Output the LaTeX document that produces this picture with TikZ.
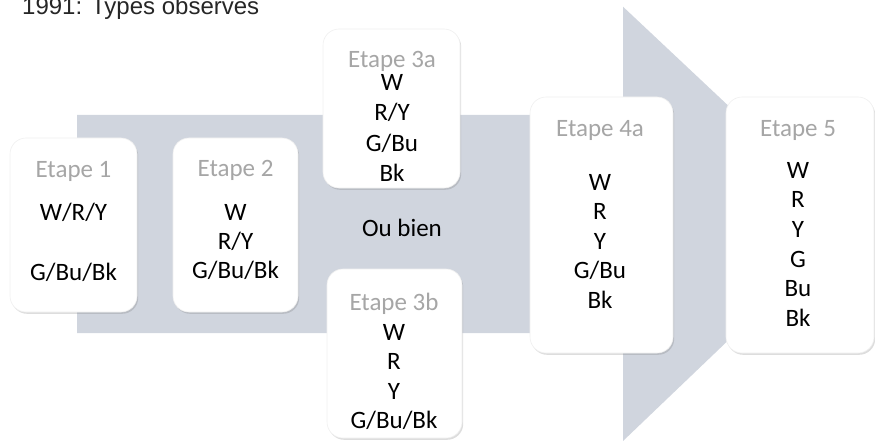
\documentclass[tikz,border=0pt]{standalone}
\usepackage{fontspec}
\setmainfont{Carlito}
\newfontfamily\arialfont{Liberation Sans}
\usetikzlibrary{shadows}
\definecolor{arrowgray}{RGB}{208,213,222}
\definecolor{titlegray}{RGB}{166,166,166}
\definecolor{headgray}{RGB}{38,38,38}
\tikzset{
  stepbox/.style={fill=white, draw=black!6, line width=0.6pt, rounded corners=16pt,
    drop shadow={shadow xshift=1.2pt, shadow yshift=-1.8pt, opacity=0.22, fill=black!60},
    inner sep=0pt},
  steptitle/.style={anchor=base, inner sep=0pt, text=titlegray, font=\fontsize{25}{30}\selectfont},
  stepline/.style={anchor=base, inner sep=0pt, text=black, font=\fontsize{25}{30}\selectfont},
}
\begin{document}
\begin{tikzpicture}[x=1pt,y=-1pt]
\useasboundingbox (0,0) rectangle (875,441);
% big arrow
\fill[arrowgray] (77,115) -- (623,115) -- (623,6.7) -- (852,222) -- (623,441) -- (623,333) -- (77,333) -- cycle;
% heading
\node[anchor=base west, inner sep=0pt, text=headgray, font=\arialfont\fontsize{24}{29}\selectfont] (head) at (22,15) {1991: Types observes};
% boxes
\node[stepbox, minimum width=127pt, minimum height=174pt] (b1) at (73.5,225) {};
\node[stepbox, minimum width=125pt, minimum height=174pt] (b2) at (235.5,225) {};
\node[stepbox, minimum width=137pt, minimum height=159pt] (b3a) at (391.5,108.5) {};
\node[stepbox, minimum width=135pt, minimum height=169pt] (b3b) at (394.5,353.5) {};
\node[stepbox, minimum width=143pt, minimum height=256pt] (b4a) at (601.5,225) {};
\node[stepbox, minimum width=148pt, minimum height=256pt] (b5) at (800,225) {};
% Etape 1
\node[steptitle] (t1) at (73.5,177) {Etape 1};
\node[stepline] (l1a) at (73.5,220) {W/R/Y};
\node[stepline] (l1b) at (73.5,280) {G/Bu/Bk};
% Etape 2
\node[steptitle] (t2) at (235.5,176) {Etape 2};
\foreach \t [count=\i] in {W,R/Y,G/Bu/Bk}
  \node[stepline] (l2\i) at (235.5,{220+29*(\i-1)}) {\t};
% Etape 3a
\node[steptitle] (t3a) at (392,68) {Etape 3a};
\foreach \t [count=\i] in {W,R/Y,G/Bu,Bk}
  \node[stepline] (l3a\i) at (392,{91+30*(\i-1)}) {\t};
% Ou bien
\node[stepline] (ou) at (402,236) {Ou bien};
% Etape 3b
\node[steptitle] (t3b) at (394,310) {Etape 3b};
\foreach \t [count=\i] in {W,R,Y,G/Bu/Bk}
  \node[stepline] (l3b\i) at (394,{340+29.5*(\i-1)}) {\t};
% Etape 4a
\node[steptitle] (t4a) at (600,136) {Etape 4a};
\foreach \t [count=\i] in {W,R,Y,G/Bu,Bk}
  \node[stepline] (l4a\i) at (600,{190+29.5*(\i-1)}) {\t};
% Etape 5
\node[steptitle] (t5) at (798,137) {Etape 5};
\foreach \t [count=\i] in {W,R,Y,G,Bu,Bk}
  \node[stepline] (l5\i) at (798,{178+29.7*(\i-1)}) {\t};
\end{tikzpicture}
\end{document}
